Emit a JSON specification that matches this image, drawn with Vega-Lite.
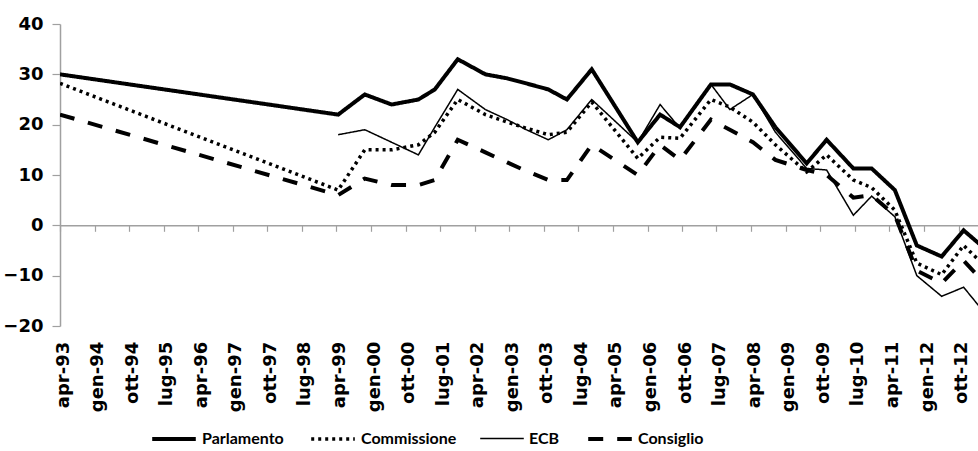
{
  "$schema": "https://vega.github.io/schema/vega-lite/v6.json",
  "autosize": "none",
  "width": 918,
  "height": 302,
  "padding": {"left": 60, "top": 24, "right": 0, "bottom": 125},
  "background": "white",
  "config": {"view": {"stroke": null}},
  "data": {"values": [
    {"date": "1993-04-01", "series": "Parlamento", "value": 30},
    {"date": "1999-04-15", "series": "Parlamento", "value": 22},
    {"date": "1999-11-12", "series": "Parlamento", "value": 26},
    {"date": "2000-06-12", "series": "Parlamento", "value": 24},
    {"date": "2001-01-10", "series": "Parlamento", "value": 25},
    {"date": "2001-05-20", "series": "Parlamento", "value": 27},
    {"date": "2001-11-18", "series": "Parlamento", "value": 33},
    {"date": "2002-06-25", "series": "Parlamento", "value": 30},
    {"date": "2002-12-15", "series": "Parlamento", "value": 29.2},
    {"date": "2003-05-15", "series": "Parlamento", "value": 28.2},
    {"date": "2003-11-06", "series": "Parlamento", "value": 27},
    {"date": "2004-04-01", "series": "Parlamento", "value": 25},
    {"date": "2004-10-15", "series": "Parlamento", "value": 31},
    {"date": "2005-10-15", "series": "Parlamento", "value": 16.5},
    {"date": "2006-04-10", "series": "Parlamento", "value": 22},
    {"date": "2006-09-15", "series": "Parlamento", "value": 19.5},
    {"date": "2007-05-18", "series": "Parlamento", "value": 28},
    {"date": "2007-10-15", "series": "Parlamento", "value": 28},
    {"date": "2008-04-15", "series": "Parlamento", "value": 26},
    {"date": "2008-10-10", "series": "Parlamento", "value": 19.5},
    {"date": "2009-06-15", "series": "Parlamento", "value": 12.3},
    {"date": "2009-11-20", "series": "Parlamento", "value": 17},
    {"date": "2010-06-20", "series": "Parlamento", "value": 11.3},
    {"date": "2010-11-12", "series": "Parlamento", "value": 11.3},
    {"date": "2011-05-15", "series": "Parlamento", "value": 7},
    {"date": "2011-11-05", "series": "Parlamento", "value": -4},
    {"date": "2012-05-20", "series": "Parlamento", "value": -6.2},
    {"date": "2012-11-10", "series": "Parlamento", "value": -1},
    {"date": "2013-05-15", "series": "Parlamento", "value": -5},

    {"date": "1993-04-01", "series": "Commissione", "value": 28.2},
    {"date": "1999-04-15", "series": "Commissione", "value": 7},
    {"date": "1999-11-12", "series": "Commissione", "value": 15},
    {"date": "2000-06-12", "series": "Commissione", "value": 15},
    {"date": "2001-01-10", "series": "Commissione", "value": 16},
    {"date": "2001-05-20", "series": "Commissione", "value": 18.5},
    {"date": "2001-11-18", "series": "Commissione", "value": 25},
    {"date": "2002-06-25", "series": "Commissione", "value": 22},
    {"date": "2002-12-15", "series": "Commissione", "value": 20.5},
    {"date": "2003-05-15", "series": "Commissione", "value": 19.3},
    {"date": "2003-11-06", "series": "Commissione", "value": 18},
    {"date": "2004-04-01", "series": "Commissione", "value": 18.5},
    {"date": "2004-10-15", "series": "Commissione", "value": 24.5},
    {"date": "2005-10-15", "series": "Commissione", "value": 13.3},
    {"date": "2006-04-10", "series": "Commissione", "value": 17.5},
    {"date": "2006-09-15", "series": "Commissione", "value": 17.3},
    {"date": "2007-05-18", "series": "Commissione", "value": 25},
    {"date": "2007-10-15", "series": "Commissione", "value": 23.5},
    {"date": "2008-04-15", "series": "Commissione", "value": 20.5},
    {"date": "2008-10-10", "series": "Commissione", "value": 16},
    {"date": "2009-06-15", "series": "Commissione", "value": 10.6},
    {"date": "2009-11-20", "series": "Commissione", "value": 14},
    {"date": "2010-06-20", "series": "Commissione", "value": 9},
    {"date": "2010-11-12", "series": "Commissione", "value": 7.5},
    {"date": "2011-05-15", "series": "Commissione", "value": 3},
    {"date": "2011-11-05", "series": "Commissione", "value": -7.5},
    {"date": "2012-05-20", "series": "Commissione", "value": -9.8},
    {"date": "2012-11-10", "series": "Commissione", "value": -4},
    {"date": "2013-05-15", "series": "Commissione", "value": -8.5},

    {"date": "1999-04-15", "series": "ECB", "value": 18},
    {"date": "1999-11-12", "series": "ECB", "value": 19},
    {"date": "2000-06-12", "series": "ECB", "value": 16.5},
    {"date": "2001-01-10", "series": "ECB", "value": 14},
    {"date": "2001-05-20", "series": "ECB", "value": 19.5},
    {"date": "2001-11-18", "series": "ECB", "value": 27},
    {"date": "2002-06-25", "series": "ECB", "value": 23},
    {"date": "2002-12-15", "series": "ECB", "value": 21},
    {"date": "2003-05-15", "series": "ECB", "value": 19},
    {"date": "2003-11-06", "series": "ECB", "value": 17},
    {"date": "2004-04-01", "series": "ECB", "value": 19},
    {"date": "2004-10-15", "series": "ECB", "value": 25},
    {"date": "2005-10-15", "series": "ECB", "value": 16.5},
    {"date": "2006-04-10", "series": "ECB", "value": 24},
    {"date": "2006-09-15", "series": "ECB", "value": 19.3},
    {"date": "2007-05-18", "series": "ECB", "value": 28},
    {"date": "2007-10-15", "series": "ECB", "value": 23},
    {"date": "2008-04-15", "series": "ECB", "value": 26},
    {"date": "2008-10-10", "series": "ECB", "value": 18.5},
    {"date": "2009-06-15", "series": "ECB", "value": 11.3},
    {"date": "2009-11-20", "series": "ECB", "value": 11},
    {"date": "2010-06-20", "series": "ECB", "value": 2},
    {"date": "2010-11-12", "series": "ECB", "value": 5.8},
    {"date": "2011-05-15", "series": "ECB", "value": 1.7},
    {"date": "2011-11-05", "series": "ECB", "value": -10},
    {"date": "2012-05-20", "series": "ECB", "value": -14.1},
    {"date": "2012-11-10", "series": "ECB", "value": -12.3},
    {"date": "2013-05-15", "series": "ECB", "value": -18},

    {"date": "1993-04-01", "series": "Consiglio", "value": 22},
    {"date": "1999-04-15", "series": "Consiglio", "value": 6},
    {"date": "1999-11-12", "series": "Consiglio", "value": 9.3},
    {"date": "2000-06-12", "series": "Consiglio", "value": 8},
    {"date": "2001-01-10", "series": "Consiglio", "value": 8},
    {"date": "2001-05-20", "series": "Consiglio", "value": 9},
    {"date": "2001-11-18", "series": "Consiglio", "value": 17},
    {"date": "2002-06-25", "series": "Consiglio", "value": 14.5},
    {"date": "2002-12-15", "series": "Consiglio", "value": 12.5},
    {"date": "2003-05-15", "series": "Consiglio", "value": 10.8},
    {"date": "2003-11-06", "series": "Consiglio", "value": 9},
    {"date": "2004-04-01", "series": "Consiglio", "value": 9},
    {"date": "2004-10-15", "series": "Consiglio", "value": 16},
    {"date": "2005-10-15", "series": "Consiglio", "value": 10},
    {"date": "2006-04-10", "series": "Consiglio", "value": 16},
    {"date": "2006-09-15", "series": "Consiglio", "value": 13},
    {"date": "2007-05-18", "series": "Consiglio", "value": 21},
    {"date": "2007-10-15", "series": "Consiglio", "value": 19},
    {"date": "2008-04-15", "series": "Consiglio", "value": 16.5},
    {"date": "2008-10-10", "series": "Consiglio", "value": 13},
    {"date": "2009-06-15", "series": "Consiglio", "value": 11},
    {"date": "2009-11-20", "series": "Consiglio", "value": 10},
    {"date": "2010-06-20", "series": "Consiglio", "value": 5.5},
    {"date": "2010-11-12", "series": "Consiglio", "value": 6},
    {"date": "2011-05-15", "series": "Consiglio", "value": 2},
    {"date": "2011-11-05", "series": "Consiglio", "value": -9},
    {"date": "2012-05-20", "series": "Consiglio", "value": -11.5},
    {"date": "2012-11-10", "series": "Consiglio", "value": -7},
    {"date": "2013-05-15", "series": "Consiglio", "value": -12}
  ]},
  "mark": {"type": "line", "clip": true, "color": "black", "strokeCap": "butt", "strokeJoin": "miter"},
  "encoding": {
    "x": {
      "field": "date", "type": "temporal",
      "scale": {"type": "utc", "domain": [{"year": 1993, "month": 4, "date": 1, "utc": true}, {"year": 2013, "month": 3, "date": 4, "utc": true}], "nice": false},
      "axis": {
        "title": null, "orient": "bottom", "offset": -100.7,
        "values": [
          {"year": 1993, "month": 4, "date": 1, "utc": true}, {"year": 1994, "month": 1, "date": 1, "utc": true}, {"year": 1994, "month": 10, "date": 1, "utc": true},
          {"year": 1995, "month": 7, "date": 1, "utc": true}, {"year": 1996, "month": 4, "date": 1, "utc": true}, {"year": 1997, "month": 1, "date": 1, "utc": true},
          {"year": 1997, "month": 10, "date": 1, "utc": true}, {"year": 1998, "month": 7, "date": 1, "utc": true}, {"year": 1999, "month": 4, "date": 1, "utc": true},
          {"year": 2000, "month": 1, "date": 1, "utc": true}, {"year": 2000, "month": 10, "date": 1, "utc": true}, {"year": 2001, "month": 7, "date": 1, "utc": true},
          {"year": 2002, "month": 4, "date": 1, "utc": true}, {"year": 2003, "month": 1, "date": 1, "utc": true}, {"year": 2003, "month": 10, "date": 1, "utc": true},
          {"year": 2004, "month": 7, "date": 1, "utc": true}, {"year": 2005, "month": 4, "date": 1, "utc": true}, {"year": 2006, "month": 1, "date": 1, "utc": true},
          {"year": 2006, "month": 10, "date": 1, "utc": true}, {"year": 2007, "month": 7, "date": 1, "utc": true}, {"year": 2008, "month": 4, "date": 1, "utc": true},
          {"year": 2009, "month": 1, "date": 1, "utc": true}, {"year": 2009, "month": 10, "date": 1, "utc": true}, {"year": 2010, "month": 7, "date": 1, "utc": true},
          {"year": 2011, "month": 4, "date": 1, "utc": true}, {"year": 2012, "month": 1, "date": 1, "utc": true}, {"year": 2012, "month": 10, "date": 1, "utc": true}
        ],
        "labelExpr": "['gen','feb','mar','apr','mag','giu','lug','ago','set','ott','nov','dic'][utcmonth(datum.value)] + '-' + utcFormat(datum.value, '%y')",
        "labelAngle": -90, "labelFont": "DejaVu Sans", "labelFontWeight": "bold", "labelFontSize": 18, "labelColor": "black",
        "labelPadding": 110, "labelOffset": 3, "labelOverlap": false, "labelFlush": false,
        "domainColor": "#a0a0a0", "domainWidth": 1.5, "tickColor": "#a0a0a0", "tickWidth": 1.2, "tickSize": 6, "grid": false
      }
    },
    "y": {
      "field": "value", "type": "quantitative",
      "scale": {"domain": [-20, 40], "nice": false, "zero": false},
      "axis": {
        "title": null, "values": [-20, -10, 0, 10, 20, 30, 40],
        "labelFont": "DejaVu Sans", "labelFontWeight": "bold", "labelFontSize": 18, "labelColor": "black", "labelPadding": 9,
        "domainColor": "#a0a0a0", "domainWidth": 1.5, "tickColor": "#a0a0a0", "tickWidth": 1.2, "tickSize": 8, "grid": false
      }
    },
    "detail": {"field": "series"},
    "strokeDash": {
      "field": "series", "type": "nominal",
      "scale": {"type": "ordinal", "domain": ["Parlamento", "Commissione", "ECB", "Consiglio"], "range": [[1, 0], [3, 4], [1, 0], [15, 14]]},
      "legend": {
        "title": null, "orient": "none", "legendX": 90, "legendY": 391, "direction": "horizontal",
        "labelFont": "Lato", "labelFontWeight": "bold", "labelFontSize": 16, "labelColor": "black",
        "symbolType": "stroke", "symbolSize": 1900, "symbolStrokeColor": "black", "columnPadding": 20, "labelOffset": 4
      }
    },
    "strokeWidth": {
      "field": "series", "type": "nominal",
      "scale": {"type": "ordinal", "domain": ["Parlamento", "Commissione", "ECB", "Consiglio"], "range": [4, 3.5, 1.5, 4]},
      "legend": {
        "title": null, "orient": "none", "legendX": 90, "legendY": 391, "direction": "horizontal",
        "labelFont": "Lato", "labelFontWeight": "bold", "labelFontSize": 16, "labelColor": "black",
        "symbolType": "stroke", "symbolSize": 1900, "symbolStrokeColor": "black", "columnPadding": 20, "labelOffset": 4
      }
    }
  }
}
